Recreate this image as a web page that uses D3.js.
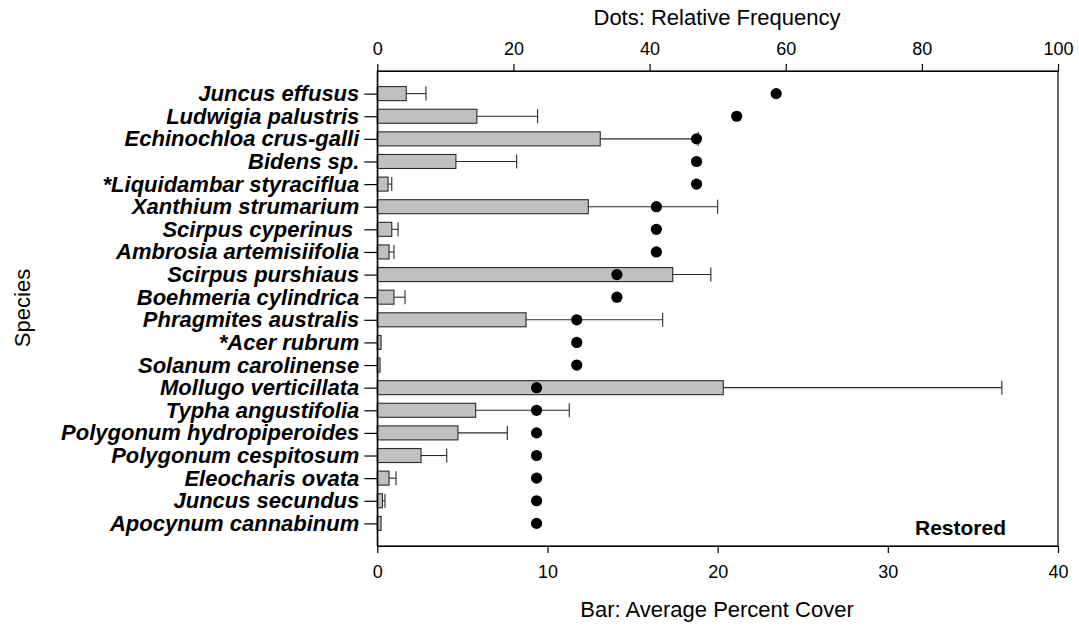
<!DOCTYPE html>
<html>
<head>
<meta charset="utf-8">
<script src="https://cdn.jsdelivr.net/npm/d3@7"></script>
<style>
  body { margin: 0; background: #fff; }
  svg { display: block; font-family: "Liberation Sans", Arial, sans-serif; }
</style>
</head>
<body>
<svg id="chart" width="1079" height="628"></svg>
<script>
// Species, ordered top to bottom
const species = [
  "Juncus effusus", "Ludwigia palustris", "Echinochloa crus-galli", "Bidens sp.",
  "*Liquidambar styraciflua", "Xanthium strumarium", "Scirpus cyperinus ", "Ambrosia artemisiifolia",
  "Scirpus purshiaus", "Boehmeria cylindrica", "Phragmites australis", "*Acer rubrum",
  "Solanum carolinense", "Mollugo verticillata", "Typha angustifolia", "Polygonum hydropiperoides",
  "Polygonum cespitosum", "Eleocharis ovata", "Juncus secundus", "Apocynum cannabinum"
];
// Average percent cover (bars)
const cover = [1.7, 5.85, 13.1, 4.62, 0.63, 12.4, 0.85, 0.69, 17.36, 0.98,
               8.74, 0.22, 0.16, 20.33, 5.78, 4.74, 2.57, 0.69, 0.30, 0.22];
// Upper end of the error bar for each cover value
const coverErr = [2.86, 9.42, 18.86, 8.19, 0.85, 20.0, 1.22, 0.98, 19.6, 1.63,
                  16.77, 0.22, 0.16, 36.7, 11.28, 7.64, 4.08, 1.1, 0.45, 0.22];
// Relative frequency (dots)
const freq = [58.6, 52.8, 46.9, 46.9, 46.9, 41.0, 41.0, 41.0, 35.2, 35.2,
              29.3, 29.3, 29.3, 23.4, 23.4, 23.4, 23.4, 23.4, 23.4, 23.4];
const coverTicks = [0, 10, 20, 30, 40];
const freqTicks = [0, 20, 40, 60, 80, 100];

const svg = d3.select("#chart");
const m = { left: 377.3, right: 1058, top: 71, bottom: 546 };
const FONT = "Liberation Sans, Arial, sans-serif";

const xCover = d3.scaleLinear().domain([0, 40]).range([m.left, m.right]);
const xFreq = d3.scaleLinear().domain([0, 100]).range([m.left, m.right]);
const y = d3.scalePoint().domain(species).range([m.top, m.bottom]).padding(1);
const barH = 14;

// bars
svg.append("g").selectAll("rect").data(species).join("rect")
  .attr("x", xCover(0))
  .attr("y", d => y(d) - barH / 2)
  .attr("width", (d, i) => xCover(cover[i]) - xCover(0))
  .attr("height", barH)
  .attr("fill", "#c0c0c0")
  .attr("stroke", "#2a2a2a")
  .attr("stroke-width", 1.1);

// error bars (upper side only)
const eg = svg.append("g").attr("stroke", "#2a2a2a").attr("stroke-width", 1.1);
species.forEach((s, i) => {
  if (coverErr[i] <= cover[i]) return;
  const yc = y(s);
  eg.append("line").attr("x1", xCover(cover[i])).attr("x2", xCover(coverErr[i]))
    .attr("y1", yc).attr("y2", yc);
  eg.append("line").attr("x1", xCover(coverErr[i])).attr("x2", xCover(coverErr[i]))
    .attr("y1", yc - barH / 2).attr("y2", yc + barH / 2);
});

// frequency dots
svg.append("g").selectAll("circle").data(species).join("circle")
  .attr("cx", (d, i) => xFreq(freq[i]))
  .attr("cy", d => y(d))
  .attr("r", 5.6)
  .attr("fill", "#000");

// frame
svg.append("rect").attr("x", m.left).attr("y", m.top)
  .attr("width", m.right - m.left).attr("height", m.bottom - m.top)
  .attr("fill", "none").attr("stroke", "#000").attr("stroke-width", 1.2);

// axes
const bottomAxis = svg.append("g").attr("transform", `translate(0,${m.bottom})`)
  .call(d3.axisBottom(xCover).tickValues(coverTicks).tickSize(7).tickPadding(12).tickSizeOuter(0));
const topAxis = svg.append("g").attr("transform", `translate(0,${m.top})`)
  .call(d3.axisTop(xFreq).tickValues(freqTicks).tickSize(7).tickPadding(9).tickSizeOuter(0));
const leftAxis = svg.append("g").attr("transform", `translate(${m.left},0)`)
  .call(d3.axisLeft(y).tickSize(13).tickPadding(5).tickSizeOuter(0));

[bottomAxis, topAxis, leftAxis].forEach(a => {
  a.select(".domain").attr("stroke", "#000").attr("stroke-width", 1.2);
  a.selectAll(".tick line").attr("stroke", "#000").attr("stroke-width", 1.2);
});
[bottomAxis, topAxis].forEach(a => {
  a.selectAll(".tick text").attr("font-size", 18).attr("fill", "#000")
    .attr("font-family", FONT);
});
leftAxis.selectAll(".tick text")
  .attr("font-size", 22).attr("font-weight", "bold").attr("font-style", "italic")
  .attr("fill", "#000").attr("font-family", FONT)
  .style("white-space", "pre");

// titles
svg.append("text").attr("x", 717).attr("y", 25).attr("text-anchor", "middle")
  .attr("font-size", 22).text("Dots: Relative Frequency");
svg.append("text").attr("x", 717).attr("y", 617).attr("text-anchor", "middle")
  .attr("font-size", 22).text("Bar: Average Percent Cover");
svg.append("text").attr("transform", "translate(30,308) rotate(-90)")
  .attr("text-anchor", "middle").attr("font-size", 22).text("Species");
svg.append("text").attr("x", 1006).attr("y", 535).attr("text-anchor", "end")
  .attr("font-size", 21).attr("font-weight", "bold").text("Restored");
</script>
</body>
</html>
